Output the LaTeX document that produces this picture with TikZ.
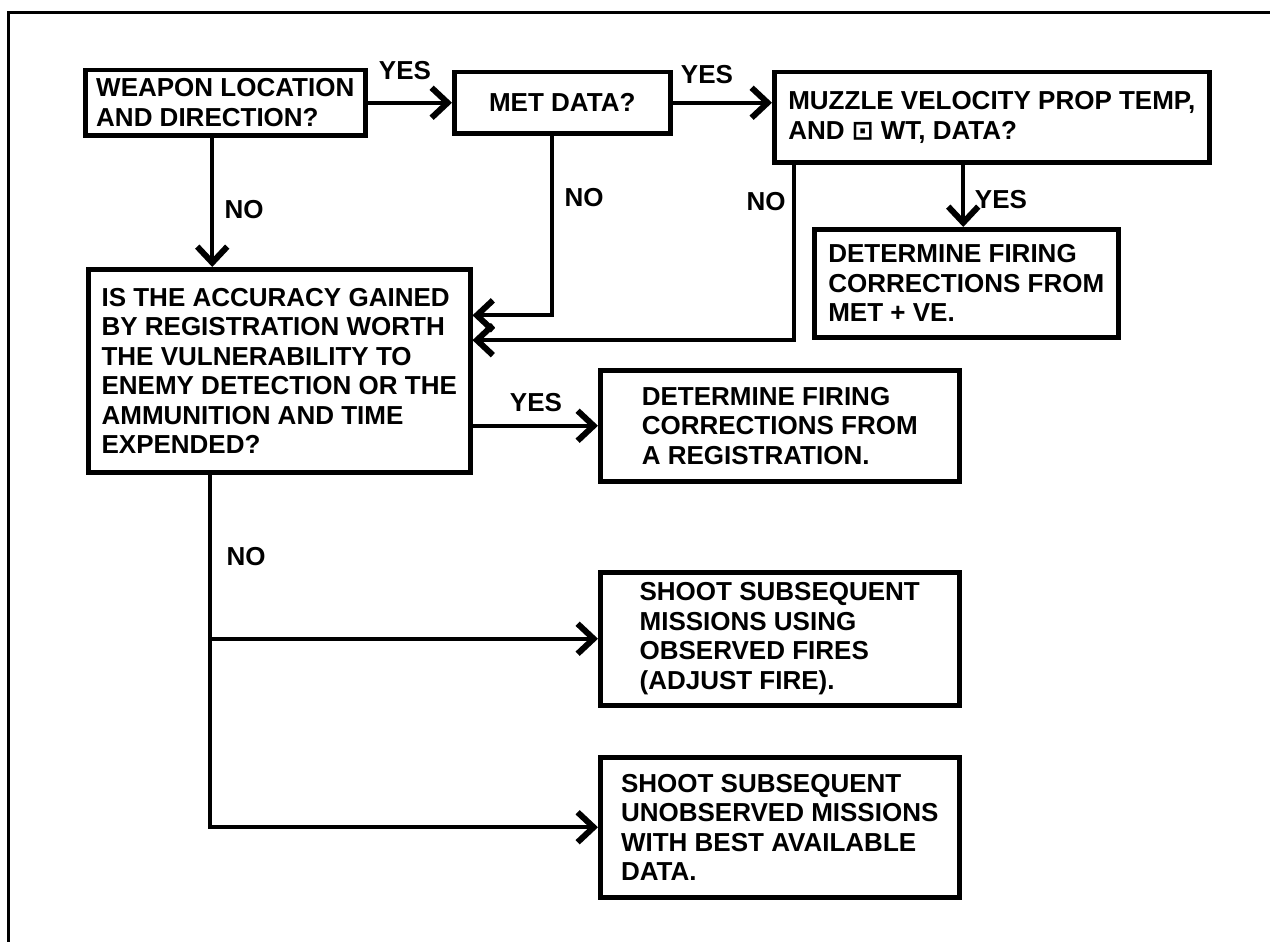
\documentclass[tikz,border=0pt]{standalone}
\usepackage{fontspec}
\setmainfont{Liberation Sans}
\newfontfamily\symfont{DejaVu Sans}
\usepackage{tikz}
\usetikzlibrary{arrows.meta}
\tikzset{
    chartbox/.style = {draw, line width = 4.5pt, align = left, inner sep = 0pt, anchor = north west},
    answer/.style = {inner sep = 0pt},
    link/.style = {line width = 4pt},
    arr/.style = {link, -{Straight Barb[length = 16pt, width = 30pt, line width = 6pt]}},
    frameline/.style = {line width = 3pt}
}

\begin{document}
\begin{tikzpicture}[x = 1pt, y = -1pt, font = \fontsize{26}{29.5}\selectfont\bfseries]
            \useasboundingbox (0,0) rectangle (1270,942);
            \draw[frameline] (8,942) -- (8,13) -- (1270,13);

            \node[chartbox, minimum width = 280pt, minimum height = 65pt] (weapon) at (83,68)
                {WEAPON LOCATION\\AND DIRECTION?};
            \node[chartbox, minimum width = 216pt, minimum height = 61pt, align = center] (met) at (452,70)
                {MET DATA?};
            \node[chartbox, minimum width = 435pt, minimum height = 90pt] (muzzle) at (772,70)
                {MUZZLE VELOCITY PROP TEMP,\\AND {\symfont\bfseries ⊡} WT, DATA?};
            \node[chartbox, minimum width = 304pt, minimum height = 108pt] (firingmet) at (812,227)
                {DETERMINE FIRING\\CORRECTIONS FROM\\MET + VE.};
            \node[chartbox, minimum width = 382pt, minimum height = 203pt] (accuracy) at (86,267)
                {IS THE ACCURACY GAINED\\BY REGISTRATION WORTH\\THE VULNERABILITY TO\\ENEMY DETECTION OR THE\\AMMUNITION AND TIME\\EXPENDED?};
            \node[chartbox, minimum width = 359pt, minimum height = 111pt] (registration) at (598,368)
                {DETERMINE FIRING\\CORRECTIONS FROM\\A REGISTRATION.};
            \node[chartbox, minimum width = 359pt, minimum height = 133pt] (observed) at (598,570)
                {SHOOT SUBSEQUENT\\MISSIONS USING\\OBSERVED FIRES\\(ADJUST FIRE).};
            \node[chartbox, minimum width = 359pt, minimum height = 140pt] (unobserved) at (598,755)
                {SHOOT SUBSEQUENT\\UNOBSERVED MISSIONS\\WITH BEST AVAILABLE\\DATA.};

            \draw[arr] (weapon.east) -- (met.west);
            \draw[arr] (met.east) -- (met.east -| muzzle.west);
            \draw[arr] ([xshift = -3pt]muzzle.south -| firingmet.north) -- ([xshift = -3pt]firingmet.north);
            \draw[arr] ([xshift = -13pt]weapon.south) -- ([xshift = -13pt]weapon.south |- accuracy.north);
            \draw[arr] ([xshift = -10pt]met.south) |- (accuracy.16);
            \draw[arr] ([xshift = 22pt]muzzle.south west) |- (accuracy.9);
            \draw[arr] (accuracy.east |- registration.west) -- (registration.west);

            \coordinate (split) at ([xshift = 124pt]accuracy.south west);
            \draw[arr] (split) |- (unobserved.west);
            \draw[arr] (split |- observed.west) -- (observed.west);

            \node[answer] (yesmet) at (405,71) {YES};
            \node[answer] (yesmuzzle) at (707,75) {YES};
            \node[answer] (yesve) at (1001,200) {YES};
            \node[answer] (yesreg) at (536,403) {YES};
            \node[answer] (noweapon) at (244,210) {NO};
            \node[answer] (nomet) at (584,198) {NO};
            \node[answer] (nomuzzle) at (766,202) {NO};
            \node[answer] (noreg) at (246,557) {NO};
        \end{tikzpicture}
\end{document}
